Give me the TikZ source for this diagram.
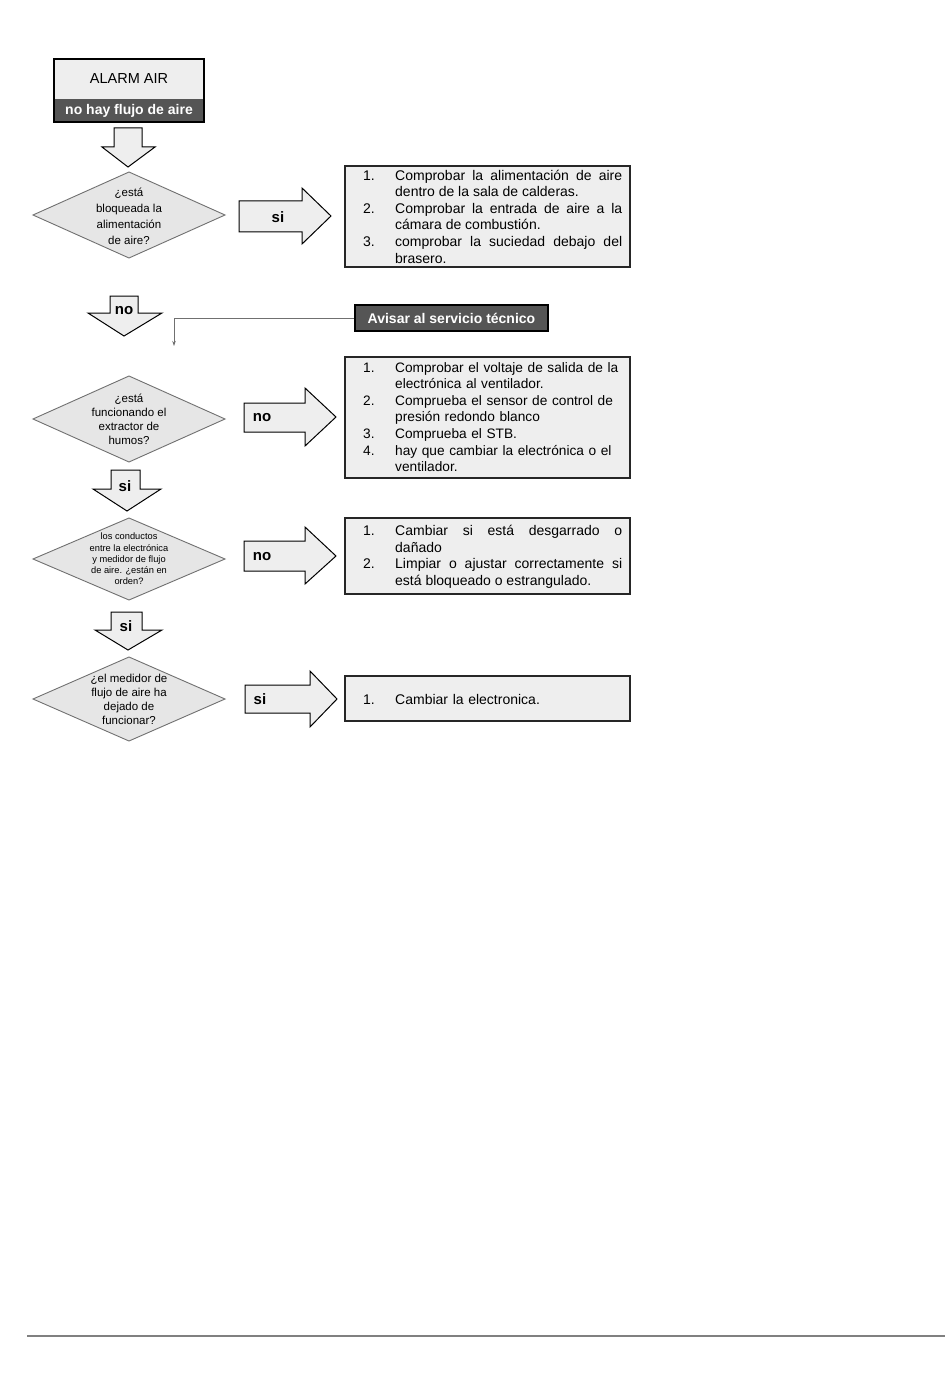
\documentclass[tikz,border=0pt]{standalone}
\usepackage{fontspec}
\setmainfont{Liberation Sans}
\usetikzlibrary{arrows.meta}
\definecolor{lightfill}{HTML}{EEEEEE}
\definecolor{diafill}{HTML}{E6E6E6}
\definecolor{darkfill}{HTML}{555555}
\definecolor{edgegray}{HTML}{707070}
\newcommand\boxitem[2]{\hangindent=32pt\hangafter=1\noindent\makebox[32pt][l]{#1}#2\par}
\tikzset{
  blockarrow/.style={fill=lightfill,draw=black,line width=1pt,line join=miter},
  diamondshape/.style={fill=diafill,draw=edgegray,line width=0.9pt},
  dtext/.style={align=center,inner sep=0pt},
  arrowlabel/.style={font=\bfseries\fontsize{15}{17}\selectfont,inner sep=0pt},
  infobox/.style={fill=lightfill,draw=black!85,line width=1.8pt},
  infotext/.style={anchor=north west,inner sep=0pt,text width=259pt,font=\fontsize{14}{16.6}\selectfont},
  darkbox/.style={fill=darkfill,draw=black,line width=2pt,text=white,font=\bfseries\fontsize{14}{16}\selectfont,minimum width=193pt,minimum height=26pt,inner sep=0pt},
}
\begin{document}
\begin{tikzpicture}[x=1pt,y=-1pt]
\useasboundingbox[fill=white] (0,0) rectangle (950,1388);

% ALARM AIR header
\fill[lightfill] (54,59) rectangle (204,99);
\fill[darkfill] (54,99) rectangle (204,122);
\draw[line width=2.5pt] (54,59) rectangle (204,122);
\node[font=\fontsize{14.5}{16}\selectfont,inner sep=0pt] (alarm) at (129,79) {ALARM AIR};
\node[font=\bfseries\fontsize{14}{16}\selectfont,text=white,inner sep=0pt] (noflujo) at (129,111) {no hay flujo de aire};

% down arrow 1
\draw[blockarrow] (114,128) -- (142,128) -- (142,147) -- (155,147) -- (128,167) -- (102,147) -- (114,147) -- cycle;

% diamond 1
\draw[diamondshape] (33,215) -- (129,172) -- (225,215) -- (129,258) -- cycle;
\node[dtext,font=\fontsize{11.5}{16}\selectfont] (q1) at (129,216) {¿está\\bloqueada la\\alimentación\\de aire?};

% right arrow si 1
\draw[blockarrow] (239,201) -- (302,201) -- (302,188) -- (331,216) -- (302,244) -- (302,232) -- (239,232) -- cycle;
\node[arrowlabel] (si1) at (278,217) {si};

% box 1
\draw[infobox] (345,166) rectangle (630,267);
\node[infotext,align=justify] (t1) at (363,169.5) {%
\boxitem{1.}{Comprobar la alimentación de aire\linebreak dentro de la sala de calderas.}%
\boxitem{2.}{Comprobar la entrada de aire a la\linebreak cámara de combustión.}%
\boxitem{3.}{comprobar la suciedad debajo del\linebreak brasero.}};

% down arrow no
\draw[blockarrow] (110,296) -- (138,296) -- (138,313) -- (162,313) -- (124,336) -- (88,313) -- (110,313) -- cycle;
\node[arrowlabel] (no1) at (124,311) {no};

% Avisar al servicio tecnico
\node[darkbox] (avisar) at (451.5,318) {Avisar al servicio técnico};
\coordinate (junc) at (174,318);
\coordinate (jend) at (174,346);
\draw[edgegray,line width=0.7pt,-{Stealth[length=5pt,width=3.5pt]}] (avisar.west) -- (junc) -- (jend);

% diamond 2
\draw[diamondshape] (33,419) -- (129,376) -- (225,419) -- (129,462) -- cycle;
\node[dtext,font=\fontsize{11.5}{14}\selectfont] (q2) at (129,419) {¿está\\funcionando el\\extractor de\\humos?};

% right arrow no 2
\draw[blockarrow] (244,403) -- (305,403) -- (305,388) -- (336,417) -- (305,446) -- (305,432) -- (244,432) -- cycle;
\node[arrowlabel] (no2) at (262,418) {no};

% box 2
\draw[infobox] (345,357) rectangle (630,478);
\node[infotext,align=left,text width=264pt,font=\fontsize{13.7}{16.6}\selectfont] (t2) at (363,362) {%
\boxitem{1.}{Comprobar el voltaje de salida de la\linebreak electrónica al ventilador.}%
\boxitem{2.}{Comprueba el sensor de control de\linebreak presión redondo blanco}%
\boxitem{3.}{Comprueba el STB.}%
\boxitem{4.}{hay que cambiar la electrónica o el\linebreak ventilador.}};

% down arrow si 2
\draw[blockarrow] (111,470) -- (140,470) -- (140,489) -- (161,489) -- (127,511) -- (93,489) -- (111,489) -- cycle;
\node[arrowlabel] (si2) at (125,486) {si};

% diamond 3
\draw[diamondshape] (33,559) -- (129,518) -- (225,559) -- (129,600) -- cycle;
\node[dtext,font=\fontsize{9.3}{11.3}\selectfont] (q3) at (129,559) {los conductos\\entre la electrónica\\y medidor de flujo\\de aire. ¿están en\\orden?};

% right arrow no 3
\draw[blockarrow] (244,541) -- (305,541) -- (305,527) -- (336,556) -- (305,584) -- (305,571) -- (244,571) -- cycle;
\node[arrowlabel] (no3) at (262,557) {no};

% box 3
\draw[infobox] (345,518) rectangle (630,594);
\node[infotext,align=justify] (t3) at (363,525) {%
\boxitem{1.}{Cambiar si está desgarrado o\linebreak dañado}%
\boxitem{2.}{Limpiar o ajustar correctamente si\linebreak está bloqueado o estrangulado.}};

% down arrow si 3
\draw[blockarrow] (111,612) -- (142,612) -- (142,630) -- (162,630) -- (128,650) -- (95,630) -- (111,630) -- cycle;
\node[arrowlabel] (si3) at (126,626) {si};

% diamond 4
\draw[diamondshape] (33,699) -- (129,657) -- (225,699) -- (129,741) -- cycle;
\node[dtext,font=\fontsize{11.5}{14}\selectfont] (q4) at (129,699) {¿el medidor de\\flujo de aire ha\\dejado de\\funcionar?};

% right arrow si 4
\draw[blockarrow] (245,685) -- (310,685) -- (310,671) -- (337,699) -- (310,727) -- (310,713) -- (245,713) -- cycle;
\node[arrowlabel] (si4) at (260,699) {si};

% box 4
\draw[infobox] (345,676) rectangle (630,721);
\node[infotext,align=left] (t4) at (363,694) {%
\boxitem{1.}{Cambiar la electronica.}};

% footer rule
\draw[black!50,line width=1.5pt] (27,1336) -- (945,1336);
\end{tikzpicture}
\end{document}
